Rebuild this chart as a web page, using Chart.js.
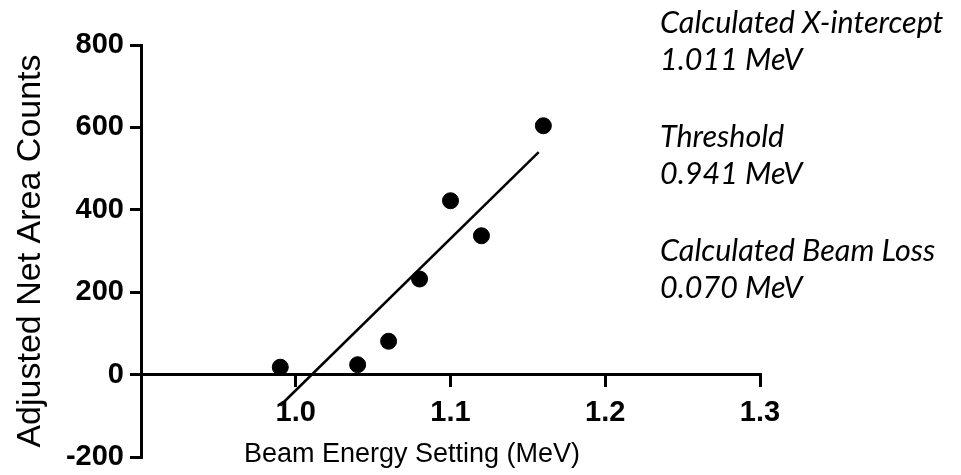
<!DOCTYPE html>
<html>
<head>
<meta charset="utf-8">
<script src="https://cdn.jsdelivr.net/npm/chart.js@4/dist/chart.umd.min.js"></script>
<style>
    body { margin: 0; background: #fff; }
    #wrap { position: relative; width: 961px; height: 475px; }
    #notes {
        position: absolute; left: 660px; top: 3px;
        font-family: 'Lato', 'Open Sans', sans-serif; font-style: italic;
        font-size: 30.5px; color: #000; line-height: 37px;
    }
    #notes p { margin: 0 0 40px 0; }
</style>
</head>
<body>
<div id="wrap">
    <canvas id="beam-chart" width="961" height="475"></canvas>
    <div id="notes">
        <p>Calculated X-intercept<br>1.011 MeV</p>
        <p>Threshold<br>0.941 MeV</p>
        <p>Calculated Beam Loss<br>0.070 MeV</p>
    </div>
</div>
<script>
// measured points (MeV, counts)
const beamEnergy = [0.99, 1.04, 1.06, 1.08, 1.10, 1.12, 1.16];
const netCounts = [18, 24, 81, 232, 422, 337, 604];

// regression line end points as drawn
const fitEnergy = [0.99, 1.157];
const fitCounts = [-75, 540];

const xTickValues = [1.0, 1.1, 1.2, 1.3];
const xTickLabels = ['1.0', '1.1', '1.2', '1.3'];
const yTickValues = [-200, 0, 200, 400, 600, 800];
const yTickLabels = ['-200', '0', '200', '400', '600', '800'];

const xAxisTitle = 'Beam Energy Setting (MeV)';
const tickFont = { family: 'Liberation Sans', size: 29, weight: 'bold' };

// x title sits off-centre under the axis in the original, so draw it by hand
const xTitlePlugin = {
    id: 'xTitle',
    afterDraw(chart) {
        const c = chart.ctx;
        c.save();
        c.font = '27px "Liberation Sans"';
        c.fillStyle = '#000';
        c.textAlign = 'center';
        c.textBaseline = 'middle';
        c.fillText(xAxisTitle, 412, 455);
        c.restore();
    }
};

function initBeamChart() {
    const ctx = document.getElementById('beam-chart');

    new Chart(ctx, {
        type: 'scatter',
        data: {
            datasets: [{
                label: 'Counts',
                data: beamEnergy.map((e, i) => ({ x: e, y: netCounts[i] })),
                backgroundColor: '#000',
                borderColor: '#000',
                pointRadius: 8,
                pointHoverRadius: 8
            }, {
                label: 'Fit',
                data: fitEnergy.map((e, i) => ({ x: e, y: fitCounts[i] })),
                showLine: true,
                borderColor: '#000',
                borderWidth: 2.5,
                pointRadius: 0
            }]
        },
        options: {
            responsive: false,
            animation: false,
            devicePixelRatio: 1,
            layout: { padding: { left: 0, top: 45, right: 201, bottom: 18 } },
            scales: {
                x: {
                    type: 'linear',
                    min: 0.9,
                    max: 1.3,
                    position: { y: 0 },
                    afterBuildTicks: scale => { scale.ticks = xTickValues.map(v => ({ value: v })); },
                    ticks: {
                        color: '#000',
                        font: tickFont,
                        padding: 10,
                        maxRotation: 0,
                        callback: value => xTickLabels[xTickValues.indexOf(value)]
                    },
                    grid: { drawOnChartArea: false, drawTicks: true, tickLength: 11, color: '#000', lineWidth: 3 },
                    border: { display: true, color: '#000', width: 3 }
                },
                y: {
                    type: 'linear',
                    min: -200,
                    max: 800,
                    position: 'left',
                    afterBuildTicks: scale => { scale.ticks = yTickValues.map(v => ({ value: v })); },
                    afterFit: scale => {
                        scale.width = 141;
                        scale.paddingTop = 0;
                        scale.paddingBottom = 0;
                    },
                    ticks: {
                        color: '#000',
                        font: tickFont,
                        padding: 6,
                        callback: value => yTickLabels[yTickValues.indexOf(value)]
                    },
                    grid: { drawOnChartArea: false, drawTicks: true, tickLength: 11, color: '#000', lineWidth: 3 },
                    border: { display: true, color: '#000', width: 3 },
                    title: {
                        display: true,
                        text: 'Adjusted Net Area Counts',
                        color: '#000',
                        font: { family: 'Liberation Sans', size: 34 },
                        padding: { top: 10, bottom: 0 }
                    }
                }
            },
            plugins: {
                legend: { display: false },
                tooltip: { enabled: false }
            }
        },
        plugins: [xTitlePlugin]
    });
}

initBeamChart();
</script>
</body>
</html>
